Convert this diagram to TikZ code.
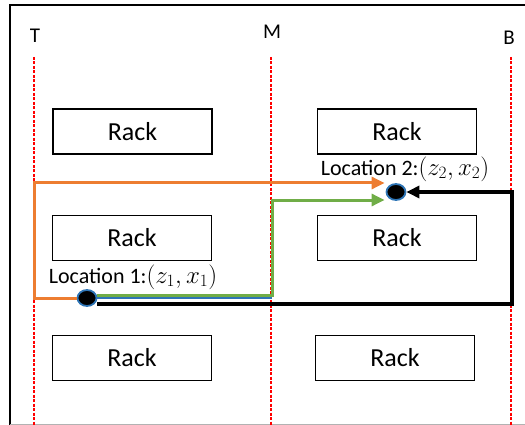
\documentclass[tikz,border=0pt]{standalone}
\usepackage{amsmath, amssymb}
\usepackage{fontspec}
\setmainfont{Carlito}
\usetikzlibrary{arrows.meta, shapes.geometric}

\definecolor{pathorange}{HTML}{ED7D31}
\definecolor{pathgreen}{HTML}{70AD47}
\definecolor{dotblue}{HTML}{2E75B6}

\newcommand{\locmath}[1]{{\fontsize{25}{27}\selectfont$#1$}}

\tikzset{
  rack/.style={draw, line width=1.8pt, minimum width=159pt, minimum height=45pt,
    inner sep=0pt, font=\fontsize{26}{28}\selectfont},
  aisle/.style={red, line width=1.6pt, dash pattern=on 3pt off 1.5pt},
  aislelabel/.style={font=\fontsize{21}{23}\selectfont},
  loc/.style={ellipse, draw=dotblue, fill=black, line width=1.8pt,
    minimum width=19pt, minimum height=16pt, inner sep=0pt},
  loclabel/.style={font=\fontsize{22}{24}\selectfont, inner sep=0pt},
  tip/.style={-{Triangle[length=13pt,width=12pt]}},
}

\begin{document}
\begin{tikzpicture}[x=1pt, y=-1pt]
      \useasboundingbox (0,0) rectangle (525,425);
      % Marco
      \draw[line width=2.2pt] (10,425) -- (10,5) -- (526,5);
      \draw[gray!60, line width=0.8pt] (10,424) -- (525,424);
      % Pasillos T, M, B
      \node[aislelabel] (T) at (35,36) {T};
      \node[aislelabel] (M) at (272,32) {M};
      \node[aislelabel] (B) at (509,38) {B};
      \coordinate (Tbot) at (34,425);
      \coordinate (Mbot) at (271,425);
      \coordinate (Bbot) at (511,425);
      \draw[aisle] (34,57) -- (Tbot);
      \draw[aisle] (271,57) -- (Mbot);
      \draw[aisle] (511,57) -- (Bbot);
      % Racks
      \node[rack] (r1l) at (132.5,131.5) {Rack};
      \node[rack] (r1r) at (397,131.5)   {Rack};
      \node[rack] (r2l) at (132,238)     {Rack};
      \node[rack] (r2r) at (397,238)     {Rack};
      \node[rack] (r3l) at (132,358)     {Rack};
      \node[rack] (r3r) at (395,358)     {Rack};
      % Ubicaciones
      \node[loc] (loc1) at (87,298) {};
      \node[loc] (loc2) at (396,192) {};
      \node[loclabel] (lab1) at (133,277) {Location 1:\locmath{(z_1,x_1)}};
      \node[loclabel] (lab2) at (405,169) {Location 2:\locmath{(z_2,x_2)}};
      % Esquinas de las rutas
      \coordinate (o1) at (34,298);
      \coordinate (o2) at (34,183);
      \coordinate (b1) at (272,298);
      \coordinate (g1) at (272,295);
      \coordinate (g2) at (272,200);
      \coordinate (k1) at (512,304);
      \coordinate (k2) at (512,192);
      % Ruta naranja
      \draw[pathorange, line width=3pt, tip] (loc1.west) -- (o1) -- (o2)
        -- ([shift={(-1,-9)}]loc2.west);
      % Ruta azul
      \draw[dotblue, line width=1.2pt] (loc1.east |- b1) -- (b1);
      % Ruta verde
      \draw[pathgreen, line width=3pt, tip] (loc1.east |- g1) -- (g1) -- (g2)
        -- ([shift={(-1,8)}]loc2.west);
      % Ruta negra
      \draw[line width=3.2pt, tip] (loc1.east |- k1) -- (k1) -- (k2) -- (loc2.east);
    \end{tikzpicture}
\end{document}
